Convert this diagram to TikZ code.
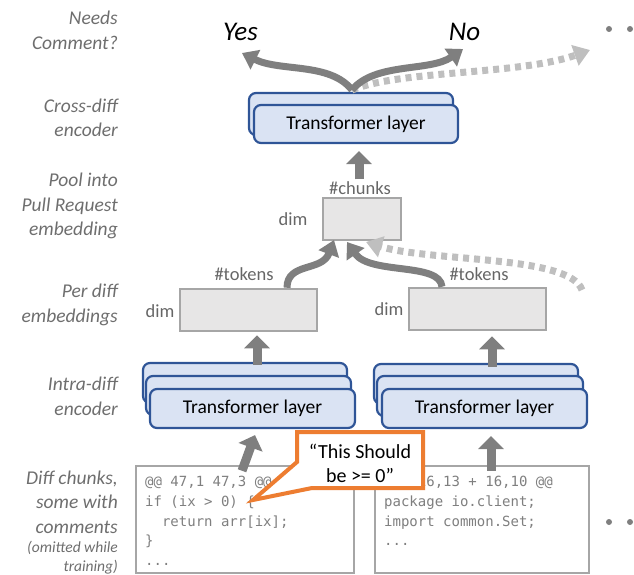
\documentclass[tikz,border=0pt]{standalone}
\usepackage{fontspec}
\setmainfont{Carlito}
\newfontfamily\codefont{DejaVu Sans Mono}
\usetikzlibrary{arrows.meta}
\definecolor{tfill}{HTML}{DAE3F3}
\definecolor{tdraw}{HTML}{2F5597}
\definecolor{gfill}{HTML}{E7E6E6}
\definecolor{gdraw}{HTML}{A6A6A6}
\definecolor{agray}{HTML}{7F7F7F}
\definecolor{lgray}{HTML}{BFBFBF}
\definecolor{labgray}{HTML}{6E6E6E}
\definecolor{dimgray}{HTML}{666666}
\definecolor{codegray}{HTML}{7F7F7F}
\definecolor{calloutorange}{HTML}{ED7D31}
\tikzset{
  tbox/.style={draw=tdraw, fill=tfill, line width=2.2pt, rounded corners=7pt,
    minimum width=205pt, minimum height=39pt, inner sep=0pt,
    font=\fontsize{19.5}{22}\selectfont},
  gbox/.style={draw=gdraw, fill=gfill, line width=2.5pt, inner sep=0pt},
  cbox/.style={draw=gdraw, fill=white, line width=2.5pt, inner sep=0pt},
  lab/.style={anchor=east, align=right, inner sep=0pt, text=labgray,
    font=\fontsize{19.5}{24.5}\selectfont\itshape},
  smalllab/.style={anchor=east, align=right, inner sep=0pt, text=labgray,
    font=\fontsize{15.5}{19}\selectfont\itshape},
  dimlab/.style={inner sep=0pt, text=dimgray, font=\fontsize{18.5}{22}\selectfont},
  answer/.style={inner sep=0pt, text=black, font=\fontsize{27}{30}\selectfont\itshape},
  bigup/.style={draw=agray, line width=9pt, -{Triangle[width=25pt,length=13pt]}},
  curvy/.style={draw=agray, line width=7pt, -{Triangle[width=21pt,length=15pt]}},
  dotty/.style={draw=lgray, line width=7pt, dash pattern=on 6pt off 5pt,
    -{Triangle[width=21pt,length=16pt]}},
  codetext/.style={anchor=north west, inner sep=0pt, align=left, text=codegray,
    font=\fontsize{14}{19.6}\selectfont\codefont},
  dotmark/.style={fill=agray},
}
\begin{document}
\begin{tikzpicture}[x=1pt,y=-1pt]
\useasboundingbox (0,0) rectangle (634,575);

% ---- left labels
\node[lab] (l1) at (118,30.5) {Needs\\Comment?};
\node[lab] (l2) at (118,118) {Cross-diff\\encoder};
\node[lab] (l3) at (118,206) {Pool into\\Pull Request\\embedding};
\node[lab] (l4) at (118,305) {Per diff\\embeddings};
\node[lab] (l5) at (118,396.5) {Intra-diff\\encoder};
\node[lab] (l6) at (118,502) {Diff chunks,\\some with\\comments};
\node[smalllab] (l7) at (118,557.5) {(omitted while\\training)};

% ---- answers
\node[answer] (yes) at (240.5,32) {Yes};
\node[answer] (no) at (464.5,32) {No};
\fill[dotmark] (609,29) circle (3pt) (630,29) circle (3pt);

% ---- cross-diff encoder
\node[tbox, minimum width=204pt, minimum height=42pt] (cb) at (351,114) {};
\node[tbox, minimum width=204pt, minimum height=38pt] (cf) at (356,124) {Transformer layer};

% ---- pooled embedding
\node[gbox, minimum width=78pt, minimum height=42pt] (pr) at (362,219) {};
\node[dimlab] (chunks) at (360,188) {\#chunks};
\node[dimlab] (prdim) at (293,219) {dim};

% ---- per diff embeddings
\node[gbox, minimum width=137pt, minimum height=42pt] (el) at (248.5,310) {};
\node[gbox, minimum width=137pt, minimum height=42pt] (er) at (477.5,309) {};
\node[dimlab] (tokl) at (244,274) {\#tokens};
\node[dimlab] (tokr) at (479,274) {\#tokens};
\node[dimlab] (diml) at (160,311) {dim};
\node[dimlab] (dimr) at (389,309) {dim};

% ---- intra-diff encoders
\node[tbox, minimum width=204pt, minimum height=40pt] (lb3) at (245,383) {};
\node[tbox, minimum width=205pt, minimum height=39pt] (lb2) at (248.5,395.5) {};
\node[tbox, minimum width=205pt, minimum height=39pt] (lb1) at (252.5,408.5) {Transformer layer};
\node[tbox, minimum width=204pt, minimum height=40pt] (rb3) at (476,384) {};
\node[tbox, minimum width=206pt, minimum height=40pt] (rb2) at (480,396) {};
\node[tbox, minimum width=205pt, minimum height=39pt] (rb1) at (484.5,408.5) {Transformer layer};

% ---- code boxes
\node[cbox, minimum width=218pt, minimum height=107pt] (cl) at (245,519.5) {};
\node[cbox, minimum width=214pt, minimum height=107pt] (cr) at (482,519.5) {};
\node[codetext] (codel) at (145,473) {\strut@@ 47,1 47,3 @@\\if (ix > 0) \{\\\phantom{xx}return arr[ix];\\\}\\...};
\node[codetext] (coder) at (384,473) {\strut@@ -16,13 + 16,10 @@\\package io.client;\\import common.Set;\\...};
\fill[dotmark] (609,522) circle (3pt) (630,522) circle (3pt);

% ---- straight up arrows
\draw[bigup] ([xshift=-3pt,yshift=-6pt]cl.north) -- ([xshift=2.5pt,yshift=-6pt]lb1.south);
\draw[bigup] ([xshift=9pt,yshift=-6pt]cr.north) -- ([xshift=6.5pt,yshift=-7pt]rb1.south);
\draw[bigup] ([xshift=12pt,yshift=-3pt]lb3.north) -- ([xshift=8.5pt,yshift=-3pt]el.south);
\draw[bigup] ([xshift=16pt,yshift=-4pt]rb3.north) -- ([xshift=14.5pt,yshift=-5pt]er.south);
\draw[bigup] ([xshift=-1pt,yshift=2pt]chunks.north) -- ([xshift=3pt,yshift=-7pt]cf.south);

% ---- curved arrows into pooled embedding
\coordinate (dotStart) at (582,290);
\coordinate (lTip) at (334,240);
\coordinate (rTip) at (347,242);
\coordinate (dTip) at (366,242);
\draw[dotty] (dotStart) .. controls (570,255) and (430,262) .. (dTip);
\draw[curvy] ([xshift=38.5pt]el.north) .. controls (287,262) and (322,272) .. (lTip);
\draw[curvy] ([xshift=-35.5pt]er.north) .. controls (440,262) and (370,275) .. (rTip);

% ---- output arrows
\coordinate (top) at (352,90);
\coordinate (yesTip) at (242,53);
\coordinate (noTip) at (463,49);
\coordinate (dotTip) at (590,50);
\draw[dotty] (top) .. controls (400,70) and (520,75) .. (dotTip);
\draw[curvy] (top) .. controls (330,62) and (280,72) .. (yesTip);
\draw[curvy] (top) .. controls (375,62) and (430,72) .. (noTip);

% ---- callout
\draw[draw=calloutorange, fill=white, line width=4pt, line join=miter]
  (297,432) -- (423,432) -- (423,488) -- (312,488) -- (253,500) -- (297,462) -- cycle;
\node[inner sep=0pt, align=center, font=\fontsize{20}{24}\selectfont] (callout) at (360,463)
  {“This Should\\be >= 0”};
\end{tikzpicture}
\end{document}
